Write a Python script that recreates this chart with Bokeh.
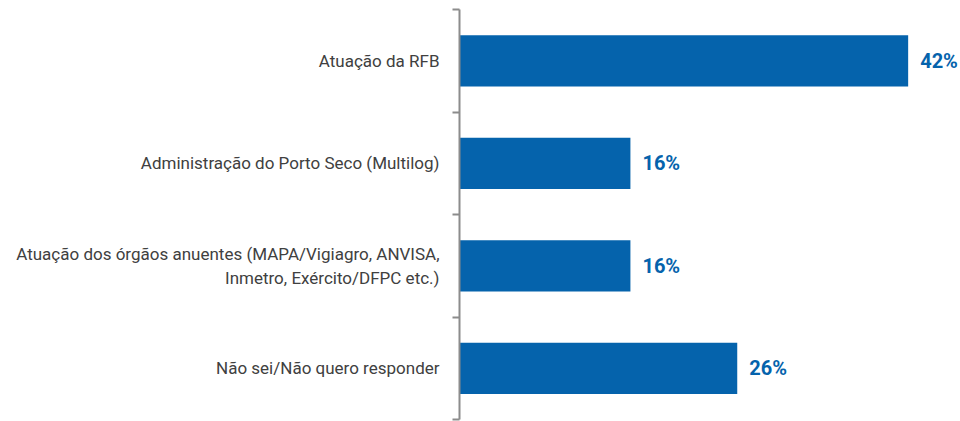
from bokeh.plotting import figure
from bokeh.models import Range1d, FixedTicker, LinearAxis
from bokeh.core.properties import value
from bokeh.embed import file_html
from bokeh.resources import INLINE

categories = [
    "Atuação da RFB",
    "Administração do Porto Seco (Multilog)",
    "Atuação dos órgãos anuentes (MAPA/Vigiagro, ANVISA,\nInmetro, Exército/DFPC etc.)",
    "Não sei/Não quero responder",
]
values = [42, 16, 16, 26]
value_labels = ["42%", "16%", "16%", "26%"]

BLUE = "#0563AC"
GRAY = "#8C8C8C"

n = len(categories)
centers = [i + 0.5 for i in range(n)]

p = figure(width=960, height=421, output_backend="svg", toolbar_location=None,
           x_range=Range1d(0, 46.9), y_range=Range1d(n, 0),
           y_axis_location=None, x_axis_location=None,
           min_border_left=459, min_border_right=0, min_border_top=9, min_border_bottom=2)
p.outline_line_color = None
p.grid.visible = False
p.background_fill_color = "white"
p.border_fill_color = "white"

ax = LinearAxis(ticker=FixedTicker(ticks=centers, minor_ticks=list(range(n + 1))))
ax.major_label_overrides = {c: lab for c, lab in zip(centers, categories)}
ax.major_tick_line_color = None
ax.major_tick_out = 0
ax.major_tick_in = 0
ax.minor_tick_out = 7
ax.minor_tick_in = 0
ax.minor_tick_line_color = GRAY
ax.minor_tick_line_width = 2
ax.axis_line_color = GRAY
ax.axis_line_width = 2
ax.major_label_standoff = 13
ax.major_label_text_font = "Roboto"
ax.major_label_text_font_size = "17px"
ax.major_label_text_color = "#404040"
p.add_layout(ax, "left")

p.hbar(y=centers, right=values, left=0, height=0.5, color=BLUE, line_color=None)

p.text(x=values, y=centers, text=value_labels, x_offset=12,
       text_baseline="middle", text_align="left",
       text_font=value("Roboto"), text_font_style="bold",
       text_font_size="20px", text_color=BLUE)

open("out.html", "w").write(file_html(p, INLINE))
